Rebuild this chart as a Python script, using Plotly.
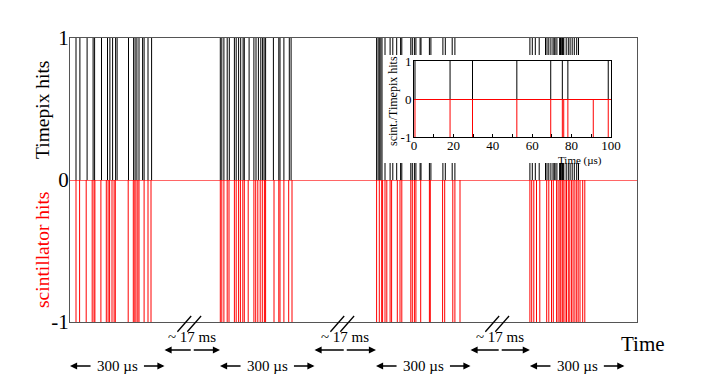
import plotly.graph_objects as go

# ---------------- data ----------------
# start of each 300 µs acquisition window on the (compressed) display time axis
window_offsets = [0, 500, 1020, 1533]
window_length = 315          # displayed length of one 300 µs window
display_range = [0, 1890]

# hit times inside each window (µs from window start)
timepix_w1 = [20, 33, 57, 77, 82, 105, 125, 133, 142, 152, 157, 195, 212, 217, 223, 230, 242, 247, 260, 272]
scint_w1 = [20, 32, 54, 74, 80, 83, 103, 121, 127, 132, 140, 147, 151, 194, 211, 216, 220, 226, 230, 247, 260, 270]
timepix_w2 = [1, 6, 13, 24, 31, 48, 54, 62, 69, 77, 81, 97, 113, 120, 128, 136, 142, 147, 152, 178, 196, 200, 213, 231, 237]
scint_w2 = [1, 6, 13, 24, 30, 48, 54, 62, 68, 76, 81, 94, 113, 119, 126, 134, 141, 148, 152, 180, 196, 200, 213, 229, 240]
timepix_w3 = [2, 7, 11, 16, 20, 30, 47, 56, 69, 82, 86, 116, 121, 128, 133, 147, 150, 178, 183, 223, 231, 254, 263]
scint_w3 = [2, 11, 19, 22, 30, 36, 47, 52, 71, 80, 86, 116, 121, 128, 133, 149, 178, 181, 222, 229, 256, 263, 280]
timepix_w4 = [0, 8, 18, 31, 52, 57, 63, 70, 77, 81, 84, 90, 99, 102, 104, 107, 109, 111, 113, 121, 128, 134,
              141, 148, 156, 162]
scint_w4 = [0, 6, 13, 22, 33, 56, 63, 72, 78, 89, 94, 100, 103, 108, 111, 117, 122, 128, 133, 139, 144, 150,
            156, 161, 167, 176, 183]

# inset: zoom on first 100 µs
inset_timepix = [0.5, 18.3, 29.7, 52.2, 69.4, 75.3, 78.1, 98.6]
inset_scint = [0.5, 18.3, 29.7, 52.2, 69.4, 75.3, 76.0, 78.1, 91.0, 98.6]

main_ticks = [-1, 0, 1]
inset_xticks = [0, 10, 20, 30, 40, 50, 60, 70, 80, 90, 100]

window_label = "300 µs"
gap_label = "~ 17 ms"

SERIF = "Liberation Serif, Times New Roman, serif"


def spikes(times, y_end):
    xs, ys = [], []
    for t in times:
        xs += [t, t, None]
        ys += [0, y_end, None]
    return xs, ys


timepix_windows = [timepix_w1, timepix_w2, timepix_w3, timepix_w4]
scint_windows = [scint_w1, scint_w2, scint_w3, scint_w4]

timepix_all = [off + t for off, w in zip(window_offsets, timepix_windows) for t in w]
scint_all = [off + t for off, w in zip(window_offsets, scint_windows) for t in w]

fig = go.Figure()

x, y = spikes(timepix_all, 1)
fig.add_trace(go.Scatter(x=x, y=y, mode="lines", line=dict(color="black", width=1),
                         hoverinfo="skip", showlegend=False, xaxis="x", yaxis="y"))
x, y = spikes(scint_all, -1)
fig.add_trace(go.Scatter(x=x, y=y, mode="lines", line=dict(color="red", width=1),
                         hoverinfo="skip", showlegend=False, xaxis="x", yaxis="y"))

# blank subplot to mask the area behind the inset
fig.add_trace(go.Scatter(x=[None], y=[None], mode="markers", showlegend=False,
                         hoverinfo="skip", xaxis="x2", yaxis="y2"))

# inset
x, y = spikes(inset_timepix, 1)
fig.add_trace(go.Scatter(x=x, y=y, mode="lines", line=dict(color="black", width=1),
                         hoverinfo="skip", showlegend=False, xaxis="x3", yaxis="y3"))
x, y = spikes(inset_scint, -1)
fig.add_trace(go.Scatter(x=x, y=y, mode="lines", line=dict(color="red", width=1),
                         hoverinfo="skip", showlegend=False, xaxis="x3", yaxis="y3"))

# page body has an 8 px margin: figure starts at (8, 8) in the window
OFF = 8
PL, PR, PT, PB = 70, 637, 38, 322          # plot frame in window pixels
W, H = 708 - OFF, 379 - OFF
PW, PH = PR - PL, PB - PT


def px_x(px):
    return (px - PL) / PW


def px_y(py):
    return (PB - py) / PH


blank = dict(showline=False, showgrid=False, zeroline=False, showticklabels=False, ticks="")

fig.update_layout(
    width=W, height=H,
    margin=dict(l=PL - OFF, r=W - (PR - OFF), t=PT - OFF, b=H - (PB - OFF), pad=0),
    paper_bgcolor="white", plot_bgcolor="white",
    font=dict(family=SERIF, color="black"),
    xaxis=dict(domain=[0, 1], range=display_range, showgrid=False, zeroline=False,
               showticklabels=False, ticks="", showline=True, mirror=True,
               linecolor="#555", linewidth=1.2),
    yaxis=dict(domain=[0, 1], range=[-1, 1], showgrid=False, zeroline=True,
               zerolinecolor="rgba(255,0,0,0.6)", zerolinewidth=1,
               tickvals=main_ticks, ticktext=[str(v) for v in main_ticks], ticks="",
               ticklabelstandoff=-4,
               tickfont=dict(size=21, family=SERIF), showline=True, mirror=True,
               linecolor="#555", linewidth=1.2),
    xaxis2=dict(domain=[px_x(384), px_x(620)], anchor="y2", range=[0, 1], **blank),
    yaxis2=dict(domain=[px_y(163), px_y(55)], anchor="x2", range=[0, 1], **blank),
    xaxis3=dict(domain=[px_x(414), px_x(611)], anchor="y3", range=[0, 100],
                tickvals=inset_xticks,
                ticktext=[str(v) if v % 20 == 0 else "" for v in inset_xticks],
                ticks="inside", ticklen=3, tickcolor="black", ticklabelstandoff=-4,
                tickfont=dict(size=13, family=SERIF), showgrid=False, zeroline=False,
                showline=True, mirror=True, linecolor="black", linewidth=1),
    yaxis3=dict(domain=[px_y(137), px_y(61)], anchor="x3", range=[-1, 1],
                tickvals=main_ticks, ticktext=[str(v) for v in main_ticks], ticks="",
                ticklabelstandoff=-1,
                tickfont=dict(size=13, family=SERIF), showgrid=False, zeroline=True,
                zerolinecolor="red", zerolinewidth=1,
                showline=True, mirror=True, linecolor="black", linewidth=1),
)


def label(text, x, y, size, color="black", angle=0, xref="paper"):
    return dict(text=text, x=x, y=y, xref=xref, yref="paper", xanchor="center",
                yanchor="middle", textangle=angle, showarrow=False,
                font=dict(size=size, color=color, family=SERIF))


ann = []
# y-axis titles
ann.append(label("Timepix hits", px_x(42), px_y(110), 19.5, angle=-90))
ann.append(label("scintillator hits", px_x(42), px_y(250), 19.5, color="red", angle=-90))
ann.append(label("Time", px_x(643), px_y(344), 21))
# inset titles
ann.append(label("scint./Timepix hits", px_x(393), px_y(101), 12, angle=-90))
ann.append(label("Time (µs)", px_x(580), px_y(160), 11))

y_win = px_y(366)
y_gap_arrow = px_y(350)
y_gap_text = px_y(337)
text_half = 84   # display units from text centre to arrow tail

arrow_style = dict(showarrow=True, arrowhead=2, arrowsize=1.1, arrowwidth=1.3,
                   arrowcolor="black", standoff=0, startstandoff=0, text="",
                   xref="x", yref="paper", axref="x", ayref="pixel", ay=0)

for k, off in enumerate(window_offsets):
    a0, a1 = off, off + window_length
    mid = (a0 + a1) / 2
    ann.append(label(window_label, mid, y_win, 15, xref="x"))
    ann.append(dict(x=a0, y=y_win, ax=mid - text_half, **arrow_style))
    ann.append(dict(x=a1, y=y_win, ax=mid + text_half, **arrow_style))
    if k + 1 < len(window_offsets):
        g0, g1 = a1, window_offsets[k + 1]
        gm = (g0 + g1) / 2
        ann.append(label(gap_label, gm, y_gap_text, 15, xref="x"))
        ann.append(dict(x=g0, y=y_gap_arrow, ax=gm, **arrow_style))
        ann.append(dict(x=g1, y=y_gap_arrow, ax=gm, **arrow_style))
        # axis-break double slash
        c = gm - 10
        for dc in (-16.5, 16.5):
            fig.add_shape(type="line", xref="x", yref="paper",
                          x0=c + dc - 23, y0=px_y(331.7), x1=c + dc + 23, y1=px_y(316),
                          line=dict(color="black", width=1.3))

fig.update_layout(annotations=ann)
fig.write_html("out.html")
